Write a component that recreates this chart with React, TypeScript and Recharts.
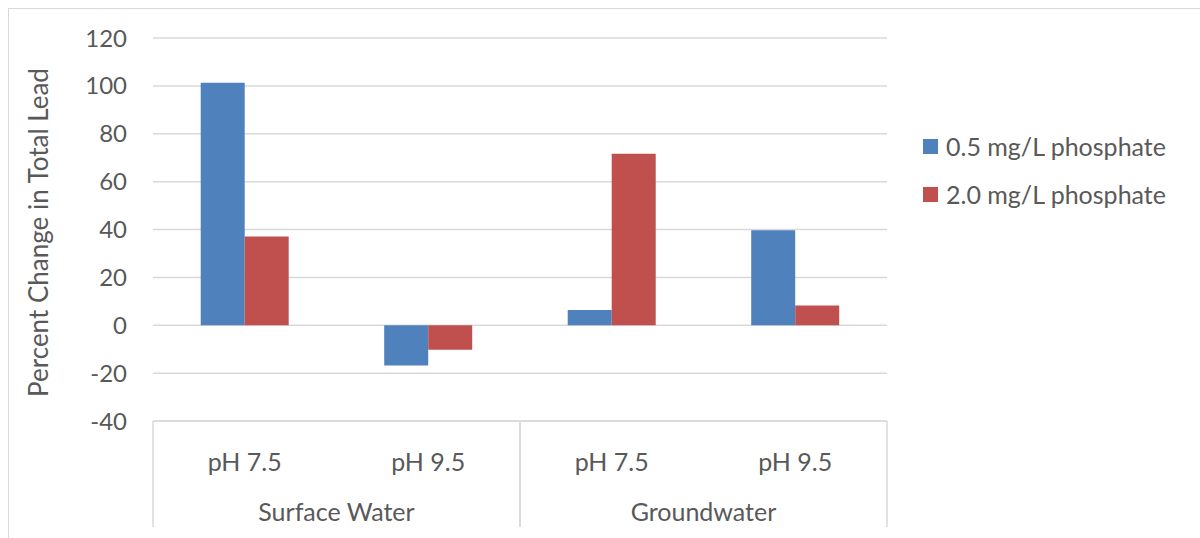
import { Bar, BarChart, CartesianGrid, Legend, XAxis, YAxis } from "recharts";

// pH level under each bar pair, and the water source each pair belongs to
const phLabels = ["pH 7.5", "pH 9.5", "pH 7.5", "pH 9.5"];
const waterSources = ["Surface Water", "Surface Water", "Groundwater", "Groundwater"];

const lowPhosphate = [101.3, -16.8, 6.4, 39.7];
const highPhosphate = [37.1, -10.2, 71.6, 8.2];

const seriesNames = ["0.5 mg/L phosphate", "2.0 mg/L phosphate"];
const yTicks = [-40, -20, 0, 20, 40, 60, 80, 100, 120];

const FONT = "Lato, 'Open Sans', sans-serif";
const TEXT = "#595959";
const GRID = "#d9d9d9";
const COLORS = ["#4F81BD", "#C0504D"];

const chartData = phLabels.map((ph, i) => ({
    key: `${waterSources[i]}|${ph}`,
    ph,
    source: waterSources[i],
    low: lowPhosphate[i],
    high: highPhosphate[i],
}));

// Two-row category axis: pH on top, water source below, with separator lines between groups
function GroupedTick(props: any) {
    const { x, y, payload, index } = props;
    const half = payload?.offset ?? 0;
    const row = chartData[index];
    const groupStart = index === 0 || chartData[index - 1].source !== row.source;
    const groupEnd = index === chartData.length - 1 || chartData[index + 1].source !== row.source;
    const lineBottom = y + 106;
    return (
        <g>
            <text x={x} y={y + 40} textAnchor="middle" dominantBaseline="central" fill={TEXT} fontSize={25} fontFamily={FONT}>
                {row.ph}
            </text>
            {groupStart && <line x1={x - half} x2={x - half} y1={y} y2={lineBottom} stroke={GRID} strokeWidth={1.5} />}
            {groupEnd && <line x1={x + half} x2={x + half} y1={y} y2={lineBottom} stroke={GRID} strokeWidth={1.5} />}
            {groupStart && (
                <text x={x + half} y={y + 90} textAnchor="middle" dominantBaseline="central" fill={TEXT} fontSize={25} fontFamily={FONT}>
                    {row.source}
                </text>
            )}
        </g>
    );
}

function YLabel(props: any) {
    const { viewBox } = props;
    const cx = viewBox.x - 55;
    const cy = viewBox.y + viewBox.height / 2 + 3;
    return (
        <text x={cx} y={cy} transform={`rotate(-90, ${cx}, ${cy})`} textAnchor="middle" dominantBaseline="central" fill={TEXT} fontSize={26} fontFamily={FONT}>
            Percent Change in Total Lead
        </text>
    );
}

function LegendList() {
    return (
        <div style={{ fontFamily: FONT, fontSize: 25, color: TEXT }}>
            {seriesNames.map((name, i) => (
                <div key={name} style={{ display: "flex", alignItems: "center", height: 48 }}>
                    <span style={{ display: "inline-block", width: 15, height: 15, background: COLORS[i], marginRight: 8 }} />
                    <span>{name}</span>
                </div>
            ))}
        </div>
    );
}

export default function App() {
    return (
        <div style={{ position: "fixed", left: 0, top: 0, width: 1200, height: 538, overflow: "hidden", background: "#fff" }}>
            <div style={{ position: "absolute", left: 8, top: 8, width: 1300, height: 700, border: `1.5px solid ${GRID}` }} />
            <div style={{ position: "absolute", left: 0, top: 0 }}>
                <BarChart width={1200} height={538} data={chartData} margin={{ top: 38, right: 313, bottom: 0, left: 93 }} barCategoryGap="26%" barGap={0}>
                    <CartesianGrid vertical={false} stroke={GRID} strokeWidth={1.5} />
                    <YAxis
                        width={60}
                        domain={[-40, 120]}
                        ticks={yTicks}
                        interval={0}
                        axisLine={false}
                        tickLine={false}
                        tickSize={0}
                        tickMargin={26}
                        tick={{ fill: TEXT, fontSize: 24, fontFamily: FONT }}
                        label={<YLabel />}
                    />
                    <XAxis
                        dataKey="key"
                        height={117}
                        interval={0}
                        axisLine={{ stroke: GRID, strokeWidth: 1.5 }}
                        tickLine={false}
                        tickSize={0}
                        tickMargin={0}
                        tick={<GroupedTick />}
                    />
                    <Legend
                        layout="horizontal"
                        align="center"
                        verticalAlign="middle"
                        wrapperStyle={{ position: "absolute", left: 923, top: 122, width: 275 }}
                        content={<LegendList />}
                    />
                    <Bar dataKey="low" name={seriesNames[0]} fill={COLORS[0]} isAnimationActive={false} />
                    <Bar dataKey="high" name={seriesNames[1]} fill={COLORS[1]} isAnimationActive={false} />
                </BarChart>
            </div>
        </div>
    );
}
